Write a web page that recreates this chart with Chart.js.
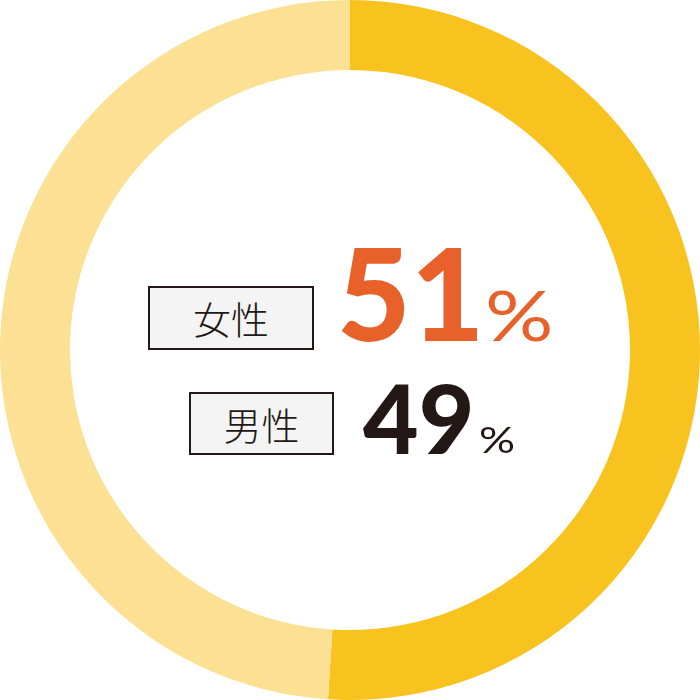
<!DOCTYPE html>
<html><head><meta charset="utf-8">
<script src="https://cdn.jsdelivr.net/npm/chart.js@4"></script>
<style>
html,body{margin:0;padding:0;background:#fff;}
#wrap{position:relative;width:700px;height:700px;}
canvas{position:absolute;left:0;top:0;}
.box{position:absolute;box-sizing:border-box;border:2px solid #231815;background:#F4F4F4;display:flex;align-items:center;justify-content:center;font-family:"Noto Sans CJK JP";font-weight:300;font-size:38px;color:#231815;line-height:1;}
.num{position:absolute;font-family:Lato,"Liberation Sans",sans-serif;line-height:1;white-space:nowrap;}
.pct{transform-origin:0 0;}
</style></head><body>
<div id="wrap">
<canvas id="c" width="700" height="700"></canvas>
<div class="box" id="b1" style="left:148px;top:286px;width:166px;height:64px;"></div>
<div class="box" id="b2" style="left:189px;top:392px;width:145px;height:63px;"></div>
<div class="num" id="n1" style="left:337px;top:229px;font-size:127px;font-weight:900;color:#E8602A;"></div>
<div class="num pct" id="p1" style="left:485px;top:279px;font-size:70px;font-weight:400;color:#E8602A;transform:scaleX(1.22);"></div>
<div class="num" id="n2" style="left:363px;top:369px;font-size:96px;font-weight:900;color:#231815;"></div>
<div class="num pct" id="p2" style="left:479px;top:421px;font-size:36px;font-weight:400;color:#231815;transform:scaleX(1.25);"></div>
</div>
<script>
const categories = ["女性", "男性"];
const values = [51, 49];
const colors = ["#F8C21F", "#FCE195"];
const unit = "%";

document.getElementById('b1').textContent = categories[0];
document.getElementById('b2').textContent = categories[1];
document.getElementById('n1').textContent = String(values[0]);
document.getElementById('n2').textContent = String(values[1]);
document.getElementById('p1').textContent = unit;
document.getElementById('p2').textContent = unit;

new Chart(document.getElementById('c'), {
  type: 'doughnut',
  data: { labels: categories, datasets: [{ data: values, backgroundColor: colors, borderWidth: 0, hoverOffset: 0 }] },
  options: {
    responsive: false, animation: false, cutout: '80%',
    layout: { padding: 0 },
    plugins: { legend: { display: false }, tooltip: { enabled: false } }
  }
});
</script>
</body></html>
